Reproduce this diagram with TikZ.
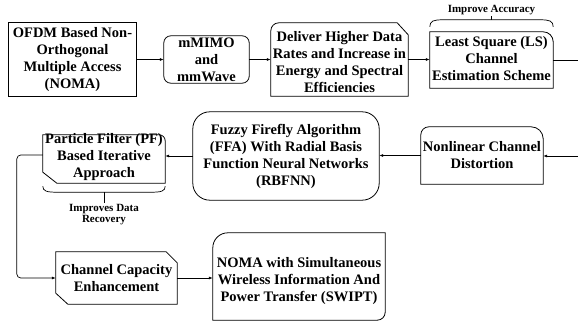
\documentclass[tikz,border=0pt]{standalone}
\usepackage{fontspec}
\setmainfont{Liberation Serif}[BoldFont={Liberation Serif Bold}]
\usetikzlibrary{arrows.meta,calc}
\begin{document}
\begin{tikzpicture}[x=1pt,y=1pt,
  box/.style 2 args={rectangle, inner sep=0pt, minimum width=#1, minimum height=#2},
  txt/.style={font=\rmfamily\bfseries\fontsize{14.5}{17}\selectfont, align=center, inner sep=0pt},
  small/.style={font=\rmfamily\bfseries\fontsize{11}{11.5}\selectfont, align=center, inner sep=1pt},
  outline/.style={draw=black, line width=0.8pt},
  link/.style={draw=black, line width=0.7pt},
  arr/.style={link, -{Latex[length=4pt,width=3pt]}}]
\useasboundingbox (0,0) rectangle (578,322);

% block frames (empty nodes carry the geometry and anchors)
\node[box={127}{73}] (ofdm) at (72.5,262.5) {};
\node[box={85}{47}]  (mimo) at (206.5,262.5) {};
\node[box={137}{73}] (del)  at (339.5,262.5) {};
\node[box={123}{56}] (ls)   at (491.5,262) {};
\node[box={122}{57}] (nl)   at (482,166.5) {};
\node[box={186}{88}] (ffa)  at (286,166) {};
\node[box={122}{48}] (pf)   at (104,163) {};
\node[box={121}{52}] (cc)   at (116.5,44) {};
\node[box={172}{87}] (sw)   at (299,45.5) {};

% outlines
\draw[outline] (ofdm.south west) rectangle (ofdm.north east);
\draw[outline, rounded corners=7pt] (mimo.south west) rectangle (mimo.north east);
\draw[outline] (del.south west) -- ([yshift=-8pt]del.north west)
  arc[start angle=180, end angle=90, radius=8pt]
  -- ([xshift=-11pt]del.north east) -- ([yshift=-12pt]del.north east)
  -- (del.south east) -- cycle;
\draw[outline] (ls.south west) -- (ls.north west) -- ([xshift=-10pt]ls.north east)
  arc[start angle=90, end angle=0, radius=10pt] -- (ls.south east) -- cycle;
\draw[outline] (nl.south west) -- ([yshift=-8pt]nl.north west)
  arc[start angle=180, end angle=90, radius=8pt]
  -- ([xshift=-12pt]nl.north east)
  arc[start angle=90, end angle=0, radius=12pt] -- (nl.south east) -- cycle;
\draw[outline, rounded corners=17pt] (ffa.south west) rectangle (ffa.north east);
\draw[outline] ([yshift=11pt]pf.south west) -- (pf.north west) -- ([xshift=-6pt]pf.north east)
  arc[start angle=90, end angle=0, radius=6pt] -- (pf.south east)
  -- ([xshift=14pt]pf.south west) -- cycle;
\draw[outline] ([yshift=11pt]cc.south west) -- (cc.north west) -- ([xshift=-11pt]cc.north east)
  -- ([yshift=-11pt]cc.north east) -- (cc.south east) -- ([xshift=12pt]cc.south west) -- cycle;
\draw[outline] (sw.south west) -- ([yshift=-15pt]sw.north west)
  arc[start angle=180, end angle=90, radius=15pt] -- (sw.north east)
  -- ([yshift=8pt]sw.south east) arc[start angle=0, end angle=-90, radius=8pt] -- cycle;

% block texts
\node[txt] (tofdm) at (ofdm.center) {OFDM Based Non-\\Orthogonal\\Multiple Access\\(NOMA)};
\node[txt] (tmimo) at (mimo.center) {mMIMO\\and\\mmWave};
\node[txt] (tdel)  at ([yshift=-3pt]del.center) {Deliver Higher Data\\Rates and Increase in\\Energy and Spectral\\Efficiencies};
\node[txt] (tls)   at ([yshift=1pt]ls.center) {Least Square (LS)\\Channel\\Estimation Scheme};
\node[txt] (tnl)   at (nl.center) {Nonlinear Channel\\Distortion};
\node[txt] (tffa)  at (ffa.center) {Fuzzy Firefly Algorithm\\(FFA) With Radial Basis\\Function Neural Networks\\(RBFNN)};
\node[txt] (tpf)   at ([yshift=2pt]pf.center) {Particle Filter (PF)\\Based Iterative\\Approach};
\node[txt] (tcc)   at (cc.center) {Channel Capacity\\Enhancement};
\node[txt] (tsw)   at ([yshift=-5pt]sw.center) {NOMA with Simultaneous\\Wireless Information And\\Power Transfer (SWIPT)};

% brace above the LS block
\draw[link] ([yshift=5pt]ls.north west)
  .. controls ([yshift=11pt]ls.north west) and ([xshift=4pt,yshift=12pt]ls.north west)
  .. ([xshift=13pt,yshift=12pt]ls.north west)
  -- ([xshift=-13pt,yshift=12pt]ls.north east)
  .. controls ([xshift=-4pt,yshift=12pt]ls.north east) and ([yshift=11pt]ls.north east)
  .. ([yshift=5pt]ls.north east);
\node[small] (acc) at ([yshift=22pt]ls.north) {Improve Accuracy};
\draw[link] ([yshift=12pt]ls.north) -- (acc.south);

% brace below the PF block
\draw[link] ([yshift=-3pt]pf.south west)
  .. controls ([yshift=-8pt]pf.south west) and ([xshift=4pt,yshift=-9pt]pf.south west)
  .. ([xshift=14pt,yshift=-9pt]pf.south west)
  -- ([xshift=-14pt,yshift=-9pt]pf.south east)
  .. controls ([xshift=-4pt,yshift=-9pt]pf.south east) and ([yshift=-8pt]pf.south east)
  .. ([yshift=-3pt]pf.south east);
\node[small] (rec) at ([yshift=-31.5pt]pf.south) {Improves Data\\Recovery};
\draw[link] ([yshift=-9pt]pf.south) -- (rec.north);

% connectors
\coordinate (edge1) at (578,262);
\coordinate (edge2) at (578,166);
\draw[arr] (ofdm.east) -- (mimo.west);
\draw[arr] (mimo.east) -- (del.west);
\draw[arr] (del.east) -- (del.east -| ls.west);
\draw[link] (ls.east) -- (edge1);
\draw[arr] (edge2) -- (edge2 -| nl.east);
\draw[arr] (nl.west) -- (nl.west -| ffa.east);
\draw[arr] (ffa.west) -- (ffa.west -| pf.east);
\draw[arr, rounded corners=4pt] ([yshift=4pt]pf.west) -- ++(-26,0) |- (cc.west);
\draw[arr] (cc.east) -- (cc.east -| sw.west);
\end{tikzpicture}
\end{document}
